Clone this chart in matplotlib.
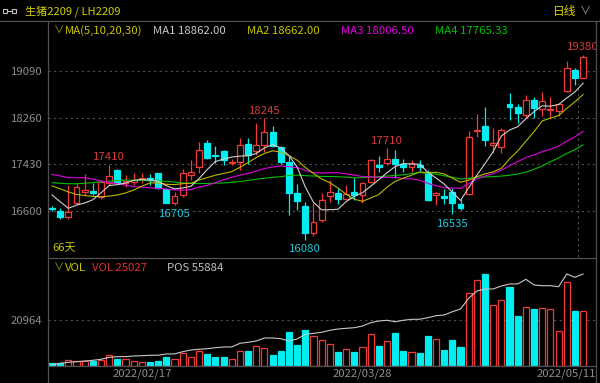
import numpy as np
import pandas as pd
import matplotlib
matplotlib.use('Agg')
import matplotlib.pyplot as plt
import matplotlib.transforms as mtransforms
from matplotlib.patches import Rectangle
from matplotlib.lines import Line2D

plt.rcParams['font.family'] = ['Noto Sans CJK SC', 'DejaVu Sans']

# daily candles, 66 trading days
opens = [16653, 16600, 16483, 16732, 16933, 16956, 16840, 17090, 17324, 17090,
         17105, 17170, 17176, 17265, 16980, 16745, 16880, 17240, 17370, 17800,
         17600, 17660, 17450, 17470, 17785, 17665, 17770, 17995, 17730, 17470,
         16910, 16690, 16210, 16435, 16867, 16920, 16805, 16938, 16880, 17115,
         17410, 17455, 17530, 17440, 17370, 17420, 17280, 16885, 16860, 16940,
         16715, 16890, 18020, 18110, 17765, 17740, 18510, 18455, 18300, 18565,
         18420, 18390, 18380, 18735, 19100, 18970]
highs = [16689, 16643, 17057, 17087, 17247, 17087, 17150, 17410, 17340, 17235,
         17276, 17270, 17250, 17280, 17000, 16940, 17335, 17500, 17830, 17860,
         17755, 17680, 17530, 17890, 17890, 18160, 18245, 18110, 17760, 17570,
         17075, 16750, 16730, 16920, 17146, 17000, 17057, 17176, 17115, 17530,
         17578, 17710, 17680, 17530, 17500, 17500, 17324, 16940, 16990, 17000,
         16800, 18020, 18320, 18450, 18080, 18080, 18700, 18500, 18655, 18625,
         18715, 18627, 18510, 19265, 19145, 19380]
lows = [16600, 16447, 16447, 16701, 16879, 16879, 16810, 17057, 17090, 17027,
        17057, 17100, 17060, 16990, 16730, 16705, 16840, 17150, 17280, 17530,
        17443, 17412, 17420, 17320, 17440, 17590, 17640, 17740, 17440, 16530,
        16610, 16080, 16150, 16405, 16760, 16720, 16790, 16790, 16735, 17090,
        17294, 17410, 17180, 17295, 17282, 17310, 16780, 16700, 16720, 16535,
        16620, 16880, 17920, 17750, 17620, 17620, 18215, 18155, 18245, 18260,
        18285, 18243, 18285, 18715, 18835, 18965]
closes = [16625, 16493, 16572, 17021, 16974, 16915, 17110, 17220, 17100, 17130,
          17145, 17190, 17151, 17000, 16745, 16860, 17275, 17295, 17690, 17545,
          17575, 17500, 17470, 17770, 17590, 17770, 17995, 17760, 17470, 16910,
          16770, 16210, 16395, 16790, 16927, 16805, 16890, 16880, 17100, 17500,
          17385, 17515, 17430, 17370, 17450, 17380, 16790, 16920, 16830, 16730,
          16645, 17915, 18045, 17860, 17800, 18035, 18450, 18340, 18570, 18430,
          18555, 18410, 18495, 19150, 18970, 19330]
volumes = [1055, 1376, 2750, 1970, 2290, 1970, 2600, 4590, 2900, 2900,
           1970, 1680, 1830, 2290, 3820, 2900, 5810, 3820, 6570, 5050,
           3820, 3820, 2900, 6570, 6730, 9020, 8100, 4590, 6570, 15290,
           9480, 16510, 13760, 11470, 9940, 6120, 7340, 6120, 8560, 14370,
           8720, 11010, 14830, 6570, 6120, 5660, 13610, 11930, 7030, 11620,
           8260, 33480, 39310, 41880, 27660, 30140, 35920, 22800, 26760, 25690,
           26460, 25690, 15730, 38390, 24900, 25027]
positions = [8000, 8894, 9420, 9736, 10104, 10472, 10998, 12050, 12366, 12410,
             12734, 12892, 13102, 13150, 13786, 13820, 14996, 15890, 16258, 16574,
             17100, 17468, 17510, 19414, 19940, 20624, 22202, 22230, 21834, 20624,
             21676, 24148, 24674, 25200, 26252, 26936, 27304, 27620, 28514, 30250,
             31144, 31512, 30776, 31530, 32038, 32060, 32880, 33932, 34300, 36036,
             37456, 43084, 46924, 47976, 48010, 49554, 50606, 50640, 53078, 50080,
             49712, 49730, 49186, 55866, 54130, 55884]

# moving-average values before a full window is available
ma5_head = [16880, 16760, 16643, 16700]
ma10_head = [17040, 16990, 16935, 16890, 16870, 16855, 16850, 16860, 16880]
ma20_head = [17247, 17220, 17190, 17188, 17188, 17160, 17130, 17105, 17080, 17055,
             17030, 17020, 17010, 16998, 16985, 16970, 16965, 16975, 17020]
ma30_head = [17100, 17090, 17080, 17080, 17090, 17100, 17115, 17125, 17135, 17145,
             17145, 17140, 17135, 17130, 17125, 17110, 17095, 17085, 17085, 17085,
             17090, 17095, 17105, 17120, 17140, 17160, 17180, 17195, 17205]
ma_last = [18862.00, 18662.00, 18006.50, 17765.33]

price_ticks = [16600, 17430, 18260, 19090]
vol_ticks = [20964]
date_ticks = [11, 38, 65]
date_labels = ['2022/02/17', '2022/03/28', '2022/05/11']
high_marks = [7, 26, 41, 65]
low_marks = [15, 31, 49]

RED = '#f03a3a'
CYAN = '#00eef0'
YELLOW = '#c8c800'
MAGENTA = '#e000e0'
GREEN = '#00c000'
GREYTXT = '#8c8c8c'
FRAME = '#505050'

W, H = 600, 383


def moving_avg(head, n):
    ma = pd.Series(closes, dtype=float).rolling(n).mean().to_numpy()
    ma[:len(head)] = head
    return ma


def fx(x):
    return x / W


def fy(y):
    return 1 - y / H


fig = plt.figure(figsize=(6, 3.83), dpi=100, facecolor='black')
ax = fig.add_axes([fx(47.5), fy(257), (596 - 47.5) / W, (257 - 20) / H])
axv = fig.add_axes([fx(47.5), fy(365.5), (596 - 47.5) / W, (365.5 - 258) / H])

n = len(closes)
x = np.arange(n)
o = np.array(opens); c = np.array(closes)
hi = np.array(highs); lo = np.array(lows)
up = c >= o

for a in (ax, axv):
    a.set_facecolor('black')
    a.set_xlim(-0.55, 66.58)
    for s in a.spines.values():
        s.set_visible(False)
    a.set_xticks([])
    a.tick_params(axis='y', colors=GREYTXT, length=0, pad=3.5, labelsize=8.2)

ax.set_ylim(15775, 19998)
ax.set_yticks(price_ticks)
for t in price_ticks:
    ax.axhline(t, color=FRAME, lw=0.8, ls=(0, (2, 3)), zorder=0)
ax.axvline(64.38, ymin=0, ymax=0.734, color=FRAME, lw=0.8, ls=(0, (2, 3)), zorder=0)

# candles
cols = np.where(up, RED, CYAN)
ax.vlines(x, lo, hi, colors=cols, lw=0.9, zorder=2)
body_lo = np.minimum(o, c)
body_h = np.maximum(np.abs(c - o), 18)
ax.bar(x, body_h, bottom=body_lo, width=0.72,
       color=np.where(up, 'black', CYAN), edgecolor=cols, lw=0.9, zorder=3)

# moving averages
ax.plot(x, moving_avg(ma30_head, 30), color=GREEN, lw=0.8, zorder=4)
ax.plot(x, moving_avg(ma20_head, 20), color=MAGENTA, lw=0.8, zorder=4)
ax.plot(x, moving_avg(ma10_head, 10), color='#b8b800', lw=0.8, zorder=4)
ax.plot(x, moving_avg(ma5_head, 5), color='#d0d0d0', lw=0.8, zorder=4)

for i in high_marks:
    ax.annotate(str(highs[i]), (i, highs[i]), xytext=(0, 2), textcoords='offset points',
                ha='center', va='bottom', color='#d83a3a', fontsize=8.2, annotation_clip=False)
for i in low_marks:
    ax.annotate(str(lows[i]), (i, lows[i]), xytext=(0, -3), textcoords='offset points',
                ha='center', va='top', color='#20c8d8', fontsize=8.2, annotation_clip=False)

# volume + open interest
axv.set_ylim(0, 49310)
axv.set_yticks(vol_ticks)
axv.set_yticklabels([str(v) for v in vol_ticks])
for t in vol_ticks:
    axv.axhline(t, color=FRAME, lw=0.8, ls=(0, (2, 3)), zorder=0)
axv.bar(x, volumes, width=0.75, color=np.where(up, 'black', CYAN),
        edgecolor=cols, lw=0.9, zorder=2)
axp = axv.twinx()
axp.set_ylim(7737, 64282)
axp.set_xlim(-0.55, 66.58)
axp.axis('off')
axp.plot(x, positions, color='#c8c8c8', lw=0.8)

tr = mtransforms.blended_transform_factory(axv.transData, axv.transAxes)
for i, lab in zip(date_ticks[:-1], date_labels[:-1]):
    axv.text(i, -0.08, lab, transform=tr, ha='center', va='center', color=GREYTXT, fontsize=8.2)
axv.text(1.0, -0.08, date_labels[-1], transform=axv.transAxes, ha='right', va='center',
         color=GREYTXT, fontsize=8.2)

# frame lines
def fline(x0, y0, x1, y1):
    fig.add_artist(Line2D([fx(x0), fx(x1)], [fy(y0), fy(y1)], color=FRAME, lw=0.9,
                          transform=fig.transFigure))

fline(0, 20.5, 600, 20.5)
fline(47.5, 20.5, 47.5, 383)
fline(596, 20.5, 596, 383)
fline(47.5, 257.5, 596, 257.5)
fline(47.5, 365.5, 596, 365.5)

# top bar
for bx in (3, 12):
    fig.add_artist(Rectangle((fx(bx), fy(13)), 4 / W, 4 / H, fill=False, ec='#c0c0c0', lw=0.8,
                             transform=fig.transFigure))
fig.add_artist(Line2D([fx(7), fx(12)], [fy(11), fy(11)], color='#c0c0c0', lw=0.8,
                      transform=fig.transFigure))
fig.text(fx(25), fy(11), '生猪2209 / LH2209', color='#d8d000', fontsize=8, va='center')
fig.text(fx(553), fy(11), '日线', color='#d8d000', fontsize=8.5, va='center')
fig.text(fx(580), fy(11), '∨', color='#9a9a9a', fontsize=8, va='center')

# MA legend
ly = fy(31)
fig.text(fx(54), ly, '∨', color='#a0a000', fontsize=7.5, va='center')
fig.text(fx(65), ly, 'MA(5,10,20,30)', color=YELLOW, fontsize=8.2, va='center')
legend_cols = ['#c8c8c8', YELLOW, MAGENTA, GREEN]
legend_x = [153, 247, 341, 435]
for k in range(4):
    fig.text(fx(legend_x[k]), ly, 'MA%d %.2f' % (k + 1, ma_last[k]), color=legend_cols[k],
             fontsize=8.2, va='center')
fig.text(fx(52), fy(248), '66天', color=YELLOW, fontsize=8, va='center')

# volume legend
vy = fy(268)
fig.text(fx(54), vy, '∨', color='#a0a000', fontsize=7.5, va='center')
fig.text(fx(65), vy, 'VOL', color=YELLOW, fontsize=8.2, va='center')
fig.text(fx(92), vy, 'VOL %d' % volumes[-1], color='#e03030', fontsize=8.2, va='center')
fig.text(fx(166.5), vy, 'POS %d' % positions[-1], color='#c0c0c0', fontsize=8.2, va='center')

fig.savefig('out.png', dpi=100, facecolor='black')
